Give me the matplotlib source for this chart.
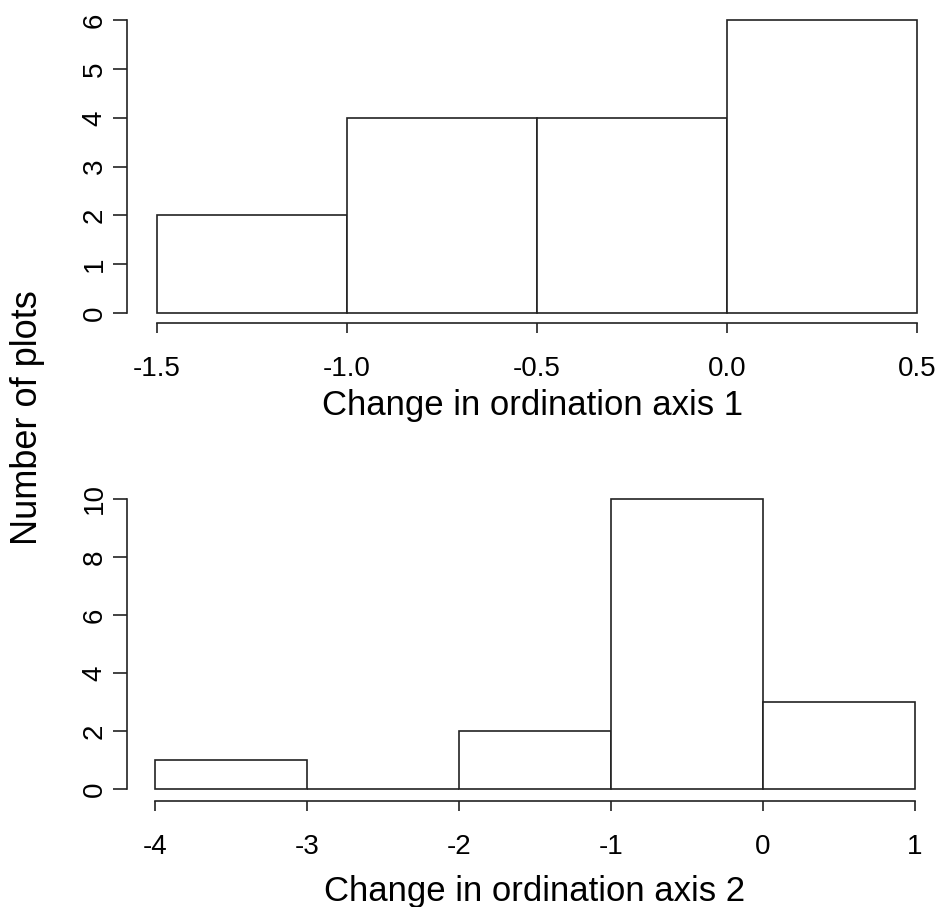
import matplotlib.pyplot as plt

# Top panel: change in ordination axis 1
edges1 = [-1.5, -1.0, -0.5, 0.0, 0.5]
counts1 = [2, 4, 4, 6]
xticks1 = [-1.5, -1.0, -0.5, 0.0, 0.5]
xlabels1 = ['-1.5', '-1.0', '-0.5', '0.0', '0.5']
yticks1 = [0, 1, 2, 3, 4, 5, 6]

# Bottom panel: change in ordination axis 2
edges2 = [-4, -3, -2, -1, 0, 1]
counts2 = [1, 0, 2, 10, 3]
xticks2 = [-4, -3, -2, -1, 0, 1]
yticks2 = [0, 2, 4, 6, 8, 10]

plt.rcParams['font.family'] = ['Liberation Sans', 'DejaVu Sans']

W, H = 937, 907
fig = plt.figure(figsize=(W / 100, H / 100), dpi=100)


def px_axes(left, top, right, bottom):
    return fig.add_axes([left / W, 1 - bottom / H, (right - left) / W, (bottom - top) / H])


def r_hist(ax, edges, counts, xticks, xlabels, yticks, xlim, ylim):
    widths = [b - a for a, b in zip(edges[:-1], edges[1:])]
    ax.bar(edges[:-1], counts, width=widths, align='edge', facecolor='white',
           edgecolor='#222222', linewidth=1.2)
    ax.set_xlim(*xlim)
    ax.set_ylim(*ylim)
    ax.spines['top'].set_visible(False)
    ax.spines['right'].set_visible(False)
    ax.spines['left'].set_bounds(yticks[0], yticks[-1])
    ax.spines['bottom'].set_bounds(xticks[0], xticks[-1])
    for s in ('left', 'bottom'):
        ax.spines[s].set_linewidth(1.2)
        ax.spines[s].set_color('#222222')
    ax.set_xticks(xticks)
    ax.set_xticklabels(xlabels)
    ax.set_yticks(yticks)
    ax.set_yticklabels([str(t) for t in yticks], rotation=90, va='center')
    ax.tick_params(axis='x', length=7, width=1.2, pad=17, labelsize=20, color='#222222')
    ax.tick_params(axis='y', length=10, width=1.2, pad=4, labelsize=20, color='#222222')


ax1 = px_axes(127, 10, 930, 323)
r_hist(ax1, edges1, counts1, xticks1, xlabels1, yticks1,
       (-1.5 - 30 / 380, 0.5 + 13 / 380), (-10 / 48.8, 303 / 48.8))

ax2 = px_axes(127, 490, 930, 801)
r_hist(ax2, edges2, counts2, xticks2, [str(t) for t in xticks2], yticks2,
       (-4 - 28 / 152, 1 + 15 / 152), (-12 / 29, 299 / 29))

fig.text(533 / W, 1 - 406 / H, 'Change in ordination axis 1', ha='center', va='center', fontsize=25)
fig.text(535 / W, 1 - 892 / H, 'Change in ordination axis 2', ha='center', va='center', fontsize=25)
fig.text(28 / W, 1 - 418 / H, 'Number of plots', ha='center', va='center', rotation=90, fontsize=26)

fig.savefig('out.png', dpi=100)
